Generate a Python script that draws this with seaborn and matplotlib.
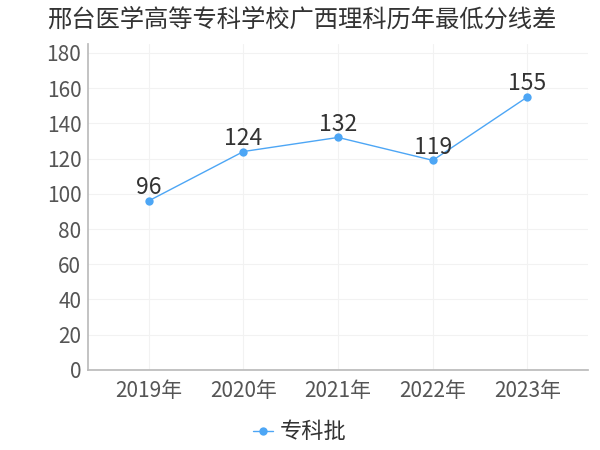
import matplotlib
matplotlib.use("Agg")
import matplotlib.pyplot as plt
import seaborn as sns
import pandas as pd

years = ["2019年", "2020年", "2021年", "2022年", "2023年"]
values = [96, 124, 132, 119, 155]
series_name = "专科批"
title = "邢台医学高等专科学校广西理科历年最低分线差"

sns.set_theme(style="white")
plt.rcParams['font.family'] = ['Noto Sans CJK SC', 'DejaVu Sans']

df = pd.DataFrame({"year": years, "value": values, "series": series_name})

fig = plt.figure(figsize=(6, 4.5), dpi=100)
ax = fig.add_axes([0.147, 0.178, 0.833, 0.724])
color = "#4da6f5"
sns.lineplot(data=df, x="year", y="value", hue="series", palette=[color],
             marker="o", markersize=6, markeredgewidth=0, linewidth=1, ax=ax, sort=False)

for i, v in enumerate(values):
    ax.text(i, v + 1, str(v), ha="center", va="bottom", fontsize=16.5, color="#333333")

ax.set_xlim(-0.64, 4.64)
ax.set_ylim(0, 185)
ax.set_yticks(range(0, 181, 20))
ax.set_xlabel("")
ax.set_ylabel("")
ax.grid(True, color="#f2f2f2", linewidth=0.8)
for s in ["top", "right"]:
    ax.spines[s].set_visible(False)
ax.spines["left"].set_color("#bbbbbb")
ax.spines["bottom"].set_color("#bbbbbb")
ax.tick_params(axis="both", labelsize=15, colors="#555555", length=0, pad=5)
ax.tick_params(axis="x", pad=7)

ax.legend(loc="center", bbox_to_anchor=(0.5, 0.04), bbox_transform=fig.transFigure,
          frameon=False, fontsize=16, handlelength=0.9, handletextpad=0.3,
          labelcolor="#333333")
fig.text(0.078, 0.957, title, fontsize=17.5, color="#333333", ha="left", va="center")

fig.savefig("out.png", dpi=100)
